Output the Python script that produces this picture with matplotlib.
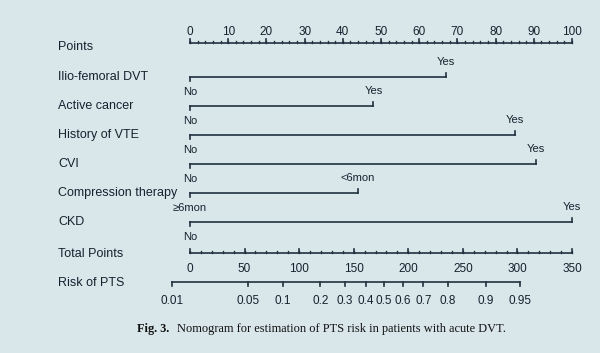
import numpy as np
import matplotlib.pyplot as plt

# Data
variables = ["Ilio-femoral DVT", "Active cancer", "History of VTE", "CVI",
             "Compression therapy", "CKD"]
low_labels = ["No", "No", "No", "No", "≥6mon", "No"]
high_labels = ["Yes", "Yes", "Yes", "Yes", "<6mon", "Yes"]
high_points = [67, 48, 85, 90.5, 44, 100]

points_ticks = list(range(0, 101, 10))
total_ticks = list(range(0, 351, 50))
risk_ticks = [0.01, 0.05, 0.1, 0.2, 0.3, 0.4, 0.5, 0.6, 0.7, 0.8, 0.9, 0.95]
risk_labels = ["0.01", "0.05", "0.1", "0.2", "0.3", "0.4", "0.5", "0.6",
               "0.7", "0.8", "0.9", "0.95"]

# linear predictor = lp_a + lp_b * total points
lp_a = -4.21
lp_b = 0.02366
total_max = 350

bg = "#d9e6ea"
ink = "#17222f"
line_c = "#223140"
sans = ["Liberation Sans", "DejaVu Sans"]

fig = plt.figure(figsize=(6, 3.53), dpi=100)
fig.patch.set_facecolor(bg)
ax = fig.add_axes([0, 0, 1, 1])
ax.set_facecolor(bg)
ax.set_xlim(-49.74, 107.33)
ax.set_ylim(353, 0)
ax.axis("off")

label_x = -34.55
row_y = [77, 106, 135, 164, 193, 222]
points_y = 43
total_y = 253
risk_y = 281.5
lw = 1.2


def total_to_x(tp):
    return np.asarray(tp) / total_max * 100


def risk_to_x(p):
    p = np.asarray(p)
    tp = (np.log(p / (1 - p)) - lp_a) / lp_b
    return total_to_x(tp)


# Points axis
ax.text(label_x, points_y + 4, "Points", fontsize=9, family=sans, color=ink,
        ha="left", va="center")
ax.plot([0, 100], [points_y, points_y], color=line_c, lw=lw)
for v in np.arange(0, 101, 2):
    ax.plot([v, v], [points_y, points_y - 2], color=line_c, lw=lw * 0.8)
for v in points_ticks:
    ax.plot([v, v], [points_y, points_y - 4], color=line_c, lw=lw)
    ax.text(v, points_y - 11, str(v), fontsize=8.5, family=sans, color=ink,
            ha="center", va="center")

# variable rows
for name, lo, hi, hp, y in zip(variables, low_labels, high_labels,
                               high_points, row_y):
    ax.text(label_x, y, name, fontsize=9, family=sans, color=ink,
            ha="left", va="center")
    ax.plot([0, hp], [y, y], color=line_c, lw=lw)
    ax.plot([0, 0], [y, y + 4], color=line_c, lw=lw)
    ax.plot([hp, hp], [y, y - 4], color=line_c, lw=lw)
    ax.text(0, y + 15, lo, fontsize=8, family=sans, color=ink,
            ha="center", va="center")
    ax.text(hp, y - 15, hi, fontsize=8, family=sans, color=ink,
            ha="center", va="center")

# Total points axis
ax.text(label_x, total_y + 1, "Total Points", fontsize=9, family=sans,
        color=ink, ha="left", va="center")
ax.plot(total_to_x([0, total_max]), [total_y, total_y], color=line_c, lw=lw)
for v in np.arange(0, total_max + 1, 10):
    x = total_to_x(v)
    ax.plot([x, x], [total_y, total_y - 2], color=line_c, lw=lw * 0.8)
for v in total_ticks:
    x = total_to_x(v)
    ax.plot([x, x], [total_y, total_y - 4], color=line_c, lw=lw)
    ax.text(x, total_y + 16.5, str(v), fontsize=8.5, family=sans, color=ink,
            ha="center", va="center")

# Risk axis
ax.text(label_x, risk_y + 1, "Risk of PTS", fontsize=9, family=sans,
        color=ink, ha="left", va="center")
rx = risk_to_x(risk_ticks)
ax.plot([rx[0], rx[-1]], [risk_y, risk_y], color=line_c, lw=lw)
for x, lab in zip(rx, risk_labels):
    ax.plot([x, x], [risk_y, risk_y + 4], color=line_c, lw=lw)
    ax.text(x, risk_y + 19.5, lab, fontsize=8.5, family=sans, color=ink,
            ha="center", va="center")

# caption
cap_x0 = (137 - 190) / 3.82
cap_x1 = (176.7 - 190) / 3.82
ax.text(cap_x0, 329, "Fig. 3.", fontsize=8.8, family="Liberation Serif",
        fontweight="bold", color="#111111", ha="left", va="center")
ax.text(cap_x1, 329, "Nomogram for estimation of PTS risk in patients with acute DVT.",
        fontsize=8.9, family="Liberation Serif", color="#111111", ha="left", va="center")

fig.savefig("out.png", dpi=100, facecolor=bg)
